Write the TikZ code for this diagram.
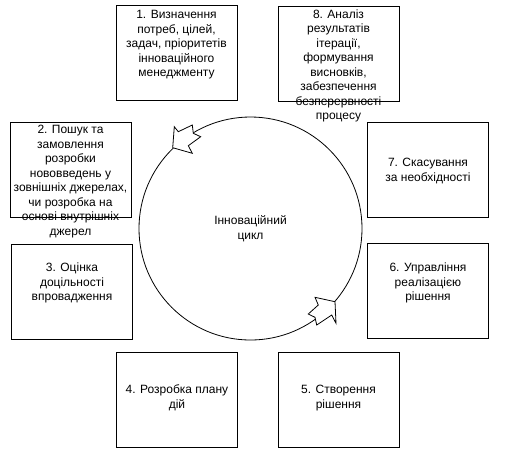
\documentclass[tikz,border=0pt]{standalone}
\usepackage{fontspec}
\setmainfont{Liberation Sans}

\tikzset{
  stagebox/.style={draw, line width=0.6pt, minimum width=90.75pt, minimum height=71.25pt, inner sep=0pt},
  stagetext/.style={align=center, inner sep=0pt, font=\fontsize{9}{10.9}\selectfont},
  turnhead/.style={draw, line width=0.6pt, fill=white, line join=miter},
}

\begin{document}
\begin{tikzpicture}[x=0.75pt, y=-0.75pt]
	\useasboundingbox (0,0) rectangle (517,469);
	% the cycle in the middle
	\node[draw, circle, line width=0.6pt, minimum size=167.25pt, stagetext] (cyc) at (250.5,228.5) {Інноваційний\\цикл};
	% two heads sitting on the ring
	\draw[turnhead] (174.3,126.7) -- (178.3,131.7) -- (192.3,125) -- (193.3,133.3) -- (200.7,136.7) -- (188.3,145.7) -- (192.3,153.3) -- (172.7,147.7) -- cycle;
	\draw[turnhead] (315,297.3) -- (335,301.7) -- (336,323.3) -- (331.7,315) -- (316.7,325) -- (315,317.3) -- (308.3,314) -- (318.3,305) -- cycle;
	% top row
	\node[stagebox] (b1) at (176.5,53) {};
	\node[stagebox] (b8) at (338.5,53.5) {};
	\node[stagetext] (t1) at (176.5,45) {1. Визначення\\потреб, цілей,\\задач, пріоритетів\\інноваційного\\менеджменту};
	\node[stagetext] (t8) at (338.5,66) {8. Аналіз\\результатів\\ітерації,\\формування\\висновків,\\забезпечення\\безперервності\\процесу};
	% upper side boxes
	\node[stagebox] (b2) at (70.5,169.5) {};
	\node[stagebox] (b7) at (428,170) {};
	\node[stagetext] (t2) at (70.5,181.5) {2. Пошук та\\замовлення\\розробки\\нововведень у\\зовнішніх джерелах,\\чи розробка на\\основі внутрішніх\\джерел};
	\node[stagetext] (t7) at (428,171) {7. Скасування\\за необхідності};
	% lower side boxes
	\node[stagebox] (b3) at (72,292) {};
	\node[stagebox] (b6) at (428,291) {};
	\node[stagetext] (t3) at (72,283) {3. Оцінка\\доцільності\\впровадження};
	\node[stagetext] (t6) at (428,283) {6. Управління\\реалізацією\\рішення};
	% bottom row
	\node[stagebox] (b4) at (177,400) {};
	\node[stagebox] (b5) at (338.5,400) {};
	\node[stagetext] (t4) at (177,398) {4. Розробка плану\\дій};
	\node[stagetext] (t5) at (338.5,398) {5. Створення\\рішення};
\end{tikzpicture}
\end{document}
